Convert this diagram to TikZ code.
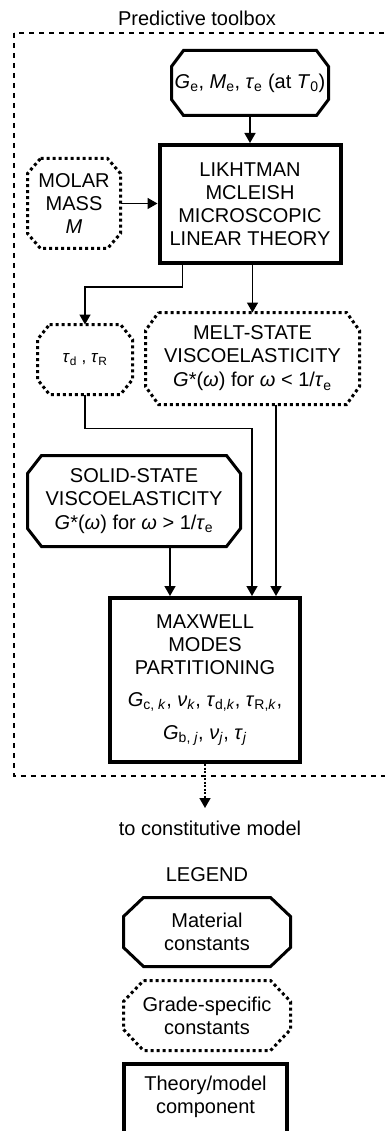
\documentclass[tikz,border=0pt]{standalone}
\usepackage{fontspec}
\setmainfont{Liberation Sans}
\usetikzlibrary{arrows.meta,calc}
\newcommand\octdraw[4]{%
  \draw[#4] ($(#1.north west)+(#2,0)$) -- ($(#1.north east)+(-#2,0)$)
   -- ($(#1.north east)+(0,#3)$) -- ($(#1.south east)+(0,-#3)$)
   -- ($(#1.south east)+(-#2,0)$) -- ($(#1.south west)+(#2,0)$)
   -- ($(#1.south west)+(0,-#3)$) -- ($(#1.north west)+(0,#3)$) -- cycle;}
\newcommand\ital[1]{\textit{#1}}
\newcommand\sbs[1]{\textsubscript{#1}}
\begin{document}
\begin{tikzpicture}[x=1pt,y=-1pt,
  txt/.style={font=\fontsize{20}{23}\selectfont, align=center, inner sep=0pt},
  thickbox/.style={txt, draw, line width=4pt, outer sep=2pt},
  octnode/.style={txt, outer sep=0pt},
  solidoct/.style={line width=3pt, line join=miter},
  dotoct/.style={line width=3pt, dash pattern=on 3pt off 3pt},
  conn/.style={line width=1.6pt, -{Triangle[length=10pt,width=11pt]}},
  dotconn/.style={line width=1.6pt, dash pattern=on 2pt off 1.5pt, -{Triangle[length=10pt,width=11pt]}},
  toolbox/.style={line width=2pt, dash pattern=on 5pt off 5pt}]
\useasboundingbox (0,0) rectangle (384,1131);

\node[txt] (title) at (197,18) {Predictive toolbox};
\draw[toolbox] (14,33) rectangle (396,776);

\node[octnode, minimum width=157pt, minimum height=65pt] (topo) at (250,83)
  {\ital{G}\sbs{e}, \ital{M}\sbs{e}, \ital{τ}\sbs{e} (at \ital{T}\sbs{0})};
\octdraw{topo}{12}{16}{solidoct}

\node[thickbox, minimum width=181pt, minimum height=118pt] (lmt) at (250,204)
  {LIKHTMAN\\MCLEISH\\MICROSCOPIC\\LINEAR THEORY};

\node[octnode, minimum width=93pt, minimum height=90pt] (molar) at (74,203.5)
  {MOLAR\\MASS\\\ital{M}};
\octdraw{molar}{13}{15}{dotoct}

\node[octnode, minimum width=95pt, minimum height=70pt] (tau) at (85,359.5)
  {\fontsize{17}{20}\selectfont\ital{τ}\sbs{d} , \ital{τ}\sbs{R}};
\octdraw{tau}{12}{15}{dotoct}

\node[octnode, minimum width=214pt, minimum height=92pt] (melt) at (252.5,358.5)
  {MELT-STATE\\VISCOELASTICITY\\[1pt]\ital{G}*(\ital{ω}) for \ital{ω} < 1/\ital{τ}\sbs{e}};
\octdraw{melt}{13}{18}{dotoct}

\node[octnode, minimum width=213pt, minimum height=91pt] (solid) at (134,501)
  {SOLID-STATE\\VISCOELASTICITY\\[1pt]\ital{G}*(\ital{ω}) for \ital{ω} > 1/\ital{τ}\sbs{e}};
\octdraw{solid}{14}{18}{solidoct}

\node[thickbox, minimum width=190pt, minimum height=164pt] (maxw) at (205,680)
  {MAXWELL\\MODES\\PARTITIONING\\[9pt]
   \ital{G}\sbs{c, \ital{k}}, \ital{ν}\sbs{\ital{k}}, \ital{τ}\sbs{d,\ital{k}}, \ital{τ}\sbs{R,\ital{k}},\\[10pt]
   \ital{G}\sbs{b, \ital{j}}, \ital{ν}\sbs{\ital{j}}, \ital{τ}\sbs{\ital{j}}};

\draw[conn] (topo.south) -- (topo.south |- lmt.north);
\draw[conn] (molar.east) -- (molar.east -| lmt.west);
\draw[conn] ($(lmt.south west)+(25,0)$) -- ++(0,22) -| (tau.north);
\draw[conn] (lmt.south -| melt.north) -- (melt.north);
\draw[conn] (tau.south) -- ++(0,34) -| ($(maxw.north)+(47,0)$);
\draw[conn] ($(melt.south)+(23.5,0)$) -- ($(maxw.north)+(71,0)$);
\draw[conn] ($(solid.south)+(36,0)$) -- ($(maxw.north)+(-35,0)$);

\coordinate (out) at (205,808);
\draw[dotconn] (maxw.south) -- (out);
\node[txt] (tcm) at (210,828) {to constitutive model};

\node[txt] (legend) at (207,875) {LEGEND};
\node[octnode, minimum width=167pt, minimum height=69pt] (mat) at (207,932)
  {Material\\constants};
\octdraw{mat}{20}{19}{solidoct}
\node[octnode, minimum width=167pt, minimum height=70pt] (grade) at (207,1015.5)
  {Grade-specific\\constants};
\octdraw{grade}{20}{21}{dotoct}
\node[thickbox, minimum width=163pt, minimum height=84pt, anchor=north, outer sep=0pt] (theory) at (205.5,1064) {};
\node[txt] (theorytxt) at (205.5,1097) {Theory/model\\component};
\end{tikzpicture}
\end{document}
